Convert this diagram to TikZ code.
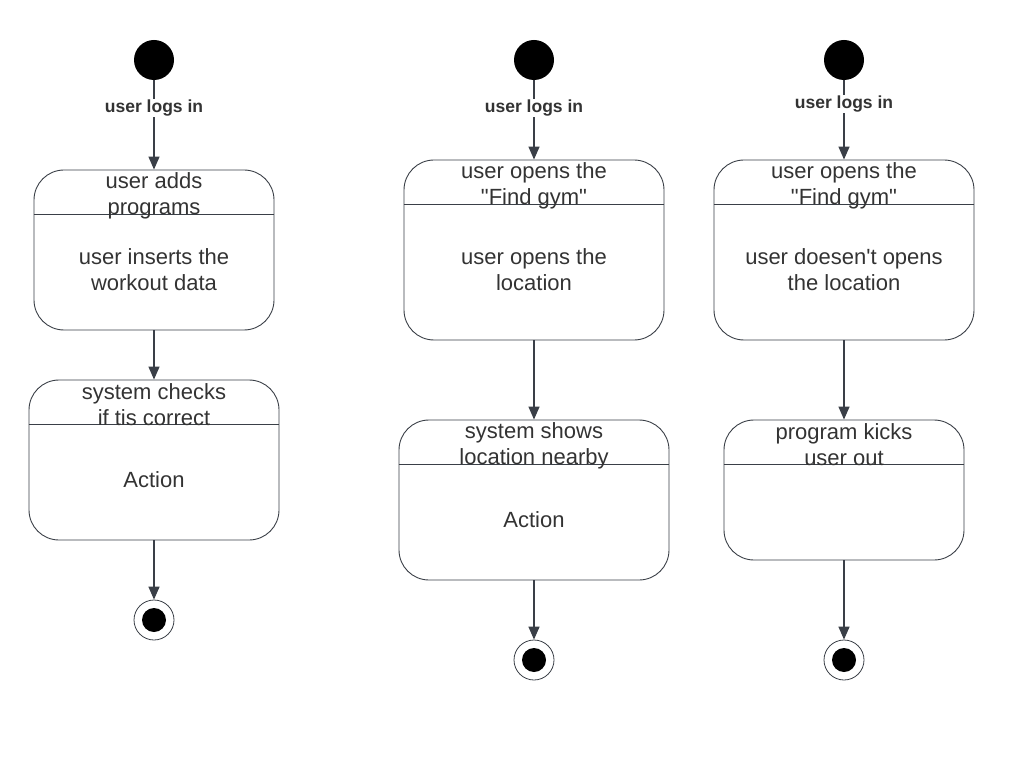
\documentclass[tikz,border=0pt]{standalone}
\usepackage{fontspec}
\setmainfont{Liberation Sans}
\usetikzlibrary{arrows.meta}
\definecolor{ink}{HTML}{3A3F47}
\definecolor{txt}{HTML}{333333}
\tikzset{
  startdot/.style={circle,fill=black,minimum size=40pt,inner sep=0pt},
  endring/.style={circle,draw=ink,line width=0.8pt,minimum size=40pt,inner sep=0pt},
  statebox/.style={draw=ink,line width=0.9pt,rounded corners=30pt,inner sep=0pt},
  flow/.style={draw=ink,line width=1.4pt,-{Triangle[length=13pt,width=11pt]}},
  plain/.style={draw=ink,line width=1.4pt},
  trig/.style={font=\bfseries\fontsize{17.5}{20}\selectfont,text=txt,fill=white,inner sep=1pt},
  title/.style={font=\fontsize{22}{26}\selectfont,text=txt,align=center,inner sep=0pt},
}
\begin{document}
\begin{tikzpicture}[x=1pt,y=-1pt]
\useasboundingbox (0,0) rectangle (1014,759);
% left column
\node[startdot] (s1) at (154,60) {};
\node[trig] (l1) at (154,108) {user logs in};
\node[statebox,minimum width=240pt,minimum height=160pt] (b1) at (154,250) {};
\draw[ink,line width=0.9pt] (b1.west |- 0,214) -- (b1.east |- 0,214);
\node[title] (t1) at (154,196) {user adds\\programs};
\node[title] (a1) at (154,270) {user inserts the\\workout data};
\node[statebox,minimum width=250pt,minimum height=160pt] (c1) at (154,460) {};
\draw[ink,line width=0.9pt] (c1.west |- 0,424) -- (c1.east |- 0,424);
\node[title] (u1) at (154,405) {system checks\\if tis correct};
\node[title] (d1) at (154,480) {Action};
\node[endring] (e1) at (154,620) {};
\fill (e1) circle (12pt);
\draw[plain] (s1) -- (l1);
\draw[flow] (l1) -- (b1);
\draw[flow] (b1) -- (c1);
\draw[flow] (c1) -- (e1);
% middle column
\node[startdot] (s2) at (534,60) {};
\node[trig] (l2) at (534,108) {user logs in};
\node[statebox,minimum width=260pt,minimum height=180pt] (b2) at (534,250) {};
\draw[ink,line width=0.9pt] (b2.west |- 0,204) -- (b2.east |- 0,204);
\node[title] (t2) at (534,186) {user opens the\\\textquotedbl Find gym\textquotedbl};
\node[title] (a2) at (534,270) {user opens the\\location};
\node[statebox,minimum width=270pt,minimum height=160pt] (c2) at (534,500) {};
\draw[ink,line width=0.9pt] (c2.west |- 0,464) -- (c2.east |- 0,464);
\node[title] (u2) at (534,446) {system shows\\location nearby};
\node[title] (d2) at (534,520) {Action};
\node[endring] (e2) at (534,660) {};
\fill (e2) circle (12pt);
\draw[plain] (s2) -- (l2);
\draw[flow] (l2) -- (b2);
\draw[flow] (b2) -- (c2);
\draw[flow] (c2) -- (e2);
% right column
\node[startdot] (s3) at (844,60) {};
\node[trig] (l3) at (844,104) {user logs in};
\node[statebox,minimum width=260pt,minimum height=180pt] (b3) at (844,250) {};
\draw[ink,line width=0.9pt] (b3.west |- 0,204) -- (b3.east |- 0,204);
\node[title] (t3) at (844,186) {user opens the\\\textquotedbl Find gym\textquotedbl};
\node[title] (a3) at (844,270) {user doesen\textquotesingle t opens\\the location};
\node[statebox,minimum width=240pt,minimum height=140pt] (c3) at (844,490) {};
\draw[ink,line width=0.9pt] (c3.west |- 0,464) -- (c3.east |- 0,464);
\node[title] (u3) at (844,445) {program kicks\\user out};
\node[endring] (e3) at (844,660) {};
\fill (e3) circle (12pt);
\draw[plain] (s3) -- (l3);
\draw[flow] (l3) -- (b3);
\draw[flow] (b3) -- (c3);
\draw[flow] (c3) -- (e3);
\end{tikzpicture}
\end{document}
